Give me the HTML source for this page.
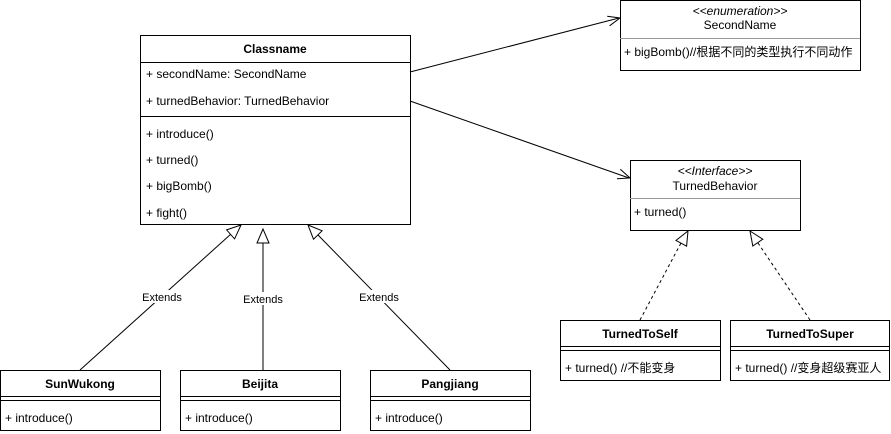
<!DOCTYPE html>
<html><head><meta charset="utf-8"><style>
html,body{margin:0;padding:0;background:#fff;}
svg{display:block;font-family:"Liberation Sans","Noto Sans CJK SC",sans-serif;font-size:12px;}
</style></head><body>
<svg width="891" height="434" viewBox="0 0 891 434" xmlns="http://www.w3.org/2000/svg">
<g fill="#fff" stroke="#000" stroke-width="1">
<rect x="140.5" y="35.5" width="270" height="189"/>
<line x1="140" y1="62.5" x2="410" y2="62.5"/>
<line x1="140" y1="116.5" x2="410" y2="116.5"/>
<rect x="620.5" y="0.5" width="240" height="70"/>
<line x1="620" y1="38.5" x2="860" y2="38.5" stroke="#999"/>
<rect x="630.5" y="160.5" width="170" height="70"/>
<line x1="630" y1="198.5" x2="800" y2="198.5" stroke="#999"/>
<rect x="0.5" y="370.5" width="160" height="60"/>
<line x1="0" y1="396.5" x2="160" y2="396.5"/><line x1="0" y1="400.5" x2="160" y2="400.5"/>
<rect x="180.5" y="370.5" width="160" height="60"/>
<line x1="180" y1="396.5" x2="340" y2="396.5"/><line x1="180" y1="400.5" x2="340" y2="400.5"/>
<rect x="370.5" y="370.5" width="160" height="60"/>
<line x1="370" y1="396.5" x2="530" y2="396.5"/><line x1="370" y1="400.5" x2="530" y2="400.5"/>
<rect x="560.5" y="320.5" width="160" height="60"/>
<line x1="560" y1="346.5" x2="720" y2="346.5"/><line x1="560" y1="350.5" x2="720" y2="350.5"/>
<rect x="730.5" y="320.5" width="159" height="60"/>
<line x1="730" y1="346.5" x2="889" y2="346.5"/><line x1="730" y1="350.5" x2="889" y2="350.5"/>
</g>
<g stroke="#000" fill="none" stroke-width="1">
<line x1="410" y1="72" x2="619" y2="18"/>
<polyline points="609.6,25.8 620,18 607.2,16.2"/>
<line x1="410" y1="101" x2="629" y2="178"/>
<polyline points="617,178.7 630,178 620.3,169.3"/>
<line x1="80" y1="370" x2="231" y2="234"/>
<line x1="263" y1="370" x2="263" y2="243"/>
<line x1="450" y1="370" x2="318" y2="235"/>
<line x1="640" y1="320" x2="681" y2="243" stroke-dasharray="3,3"/>
<line x1="810" y1="320" x2="758" y2="243" stroke-dasharray="3,3"/>
</g>
<g stroke="#000" fill="#fff">
<polygon points="241,225 234.6,238.9 226.6,229.9"/>
<polygon points="263,229 257,243 269,243"/>
<polygon points="308,225 322.1,230.8 313.5,239.2"/>
<polygon points="688,231 686.6,246.2 676,240.4"/>
<polygon points="750,231 762.8,239.2 752.8,246"/>
</g>
<g font-size="11" text-anchor="middle">
<rect x="140" y="290" width="44" height="13" fill="#fff"/>
<text x="162" y="301">Extends</text>
<rect x="241" y="292" width="44" height="13" fill="#fff"/>
<text x="263" y="303">Extends</text>
<rect x="357" y="290" width="44" height="13" fill="#fff"/>
<text x="379" y="301">Extends</text>
</g>
<g fill="#000">
<text x="275" y="53" text-anchor="middle" font-weight="bold">Classname</text>
<text x="146" y="78">+ secondName: SecondName</text>
<text x="146" y="105">+ turnedBehavior: TurnedBehavior</text>
<text x="146" y="138">+ introduce()</text>
<text x="146" y="164">+ turned()</text>
<text x="146" y="190">+ bigBomb()</text>
<text x="146" y="217">+ fight()</text>
<text x="740" y="15" text-anchor="middle" font-style="italic">&lt;&lt;enumeration&gt;&gt;</text>
<text x="740" y="29" text-anchor="middle">SecondName</text>
<text x="624" y="56">+ bigBomb()//根据不同的类型执行不同动作</text>
<text x="715" y="175" text-anchor="middle" font-style="italic">&lt;&lt;Interface&gt;&gt;</text>
<text x="715" y="190" text-anchor="middle">TurnedBehavior</text>
<text x="634" y="216">+ turned()</text>
<text x="80" y="388" text-anchor="middle" font-weight="bold">SunWukong</text>
<text x="5" y="422">+ introduce()</text>
<text x="260" y="388" text-anchor="middle" font-weight="bold">Beijita</text>
<text x="185" y="422">+ introduce()</text>
<text x="450" y="388" text-anchor="middle" font-weight="bold">Pangjiang</text>
<text x="375" y="422">+ introduce()</text>
<text x="640" y="338" text-anchor="middle" font-weight="bold">TurnedToSelf</text>
<text x="565" y="372">+ turned() //不能变身</text>
<text x="810" y="338" text-anchor="middle" font-weight="bold">TurnedToSuper</text>
<text x="735" y="372">+ turned() //变身超级赛亚人</text>
</g>
</svg>
</body></html>
